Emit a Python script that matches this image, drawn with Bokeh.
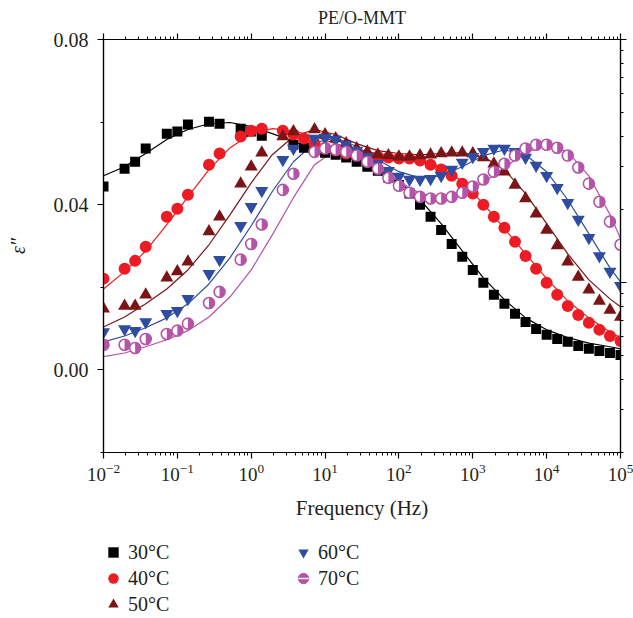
import math
from bokeh.plotting import figure
from bokeh.layouts import column
from bokeh.models import (FixedTicker, LogAxis, Range1d, LogScale, Title,
                          Legend, LegendItem, PrintfTickFormatter, ColumnDataSource)
from bokeh.embed import file_html
from bokeh.resources import INLINE

nan = float("nan")

# Measurement frequencies (Hz), 7 points per decade
FREQ = [0.01, 0.0139, 0.0193, 0.0268, 0.0373, 0.0518, 0.072,
        0.1, 0.139, 0.193, 0.268, 0.373, 0.518, 0.72,
        1, 1.39, 1.93, 2.68, 3.73, 5.18, 7.2,
        10, 13.9, 19.3, 26.8, 37.3, 51.8, 72,
        100, 139, 193, 268, 373, 518, 720,
        1000, 1390, 1930, 2680, 3730, 5180, 7200,
        10000, 13900, 19300, 26800, 37300, 51800, 72000,
        100000]

# Dielectric loss, measured points
EPS_30 = [0.0444, nan, 0.0487, 0.0504, 0.0536, nan, 0.0572, 0.0577, 0.0594, nan,
          0.0601, 0.0596, nan, 0.0584, 0.0577, 0.0567, nan, nan, 0.0545, 0.0538,
          0.0533, 0.0526, 0.0521, 0.0514, 0.0504, 0.0492, 0.0482, 0.0465, 0.0448, 0.0427,
          0.0400, 0.0371, 0.0339, 0.0305, 0.0274, 0.0242, 0.0211, 0.0182, 0.0160, 0.0136,
          0.0116, 0.0099, 0.0085, 0.0075, 0.0068, 0.0058, 0.0051, 0.0046, 0.0041, 0.0036]
EPS_40 = [0.0221, nan, 0.0245, 0.0264, 0.0298, nan, 0.0371, 0.0390, 0.0424, nan,
          0.0497, 0.0524, nan, 0.0565, 0.0579, 0.0584, nan, 0.0579, 0.0570, 0.0560,
          0.0548, 0.0538, 0.0531, 0.0524, 0.0521, 0.0516, 0.0516, 0.0514, 0.0512, 0.0512,
          0.0507, 0.0497, 0.0485, 0.0470, 0.0451, 0.0427, 0.0400, 0.0371, 0.0344, 0.0310,
          0.0276, 0.0245, 0.0211, 0.0182, 0.0155, 0.0133, 0.0114, 0.0097, 0.0082, 0.0070]
EPS_50 = [0.0148, nan, 0.0155, 0.0155, 0.0182, nan, 0.0223, 0.0238, 0.0262, nan,
          0.0335, 0.0371, nan, 0.0451, 0.0492, 0.0526, nan, 0.0565, 0.0577, nan,
          0.0582, 0.0570, 0.0560, 0.0548, 0.0536, 0.0528, 0.0521, 0.0519, 0.0516, 0.0516,
          0.0519, 0.0521, 0.0524, 0.0526, 0.0526, 0.0524, 0.0514, 0.0499, 0.0480, 0.0448,
          0.0415, 0.0378, 0.0339, 0.0301, 0.0262, 0.0225, 0.0194, 0.0167, 0.0145, 0.0128]
EPS_60 = [0.0092, nan, 0.0099, 0.0095, 0.0116, nan, 0.0136, 0.0143, 0.0172, nan,
          0.0233, 0.0267, nan, 0.0349, 0.0395, 0.0434, nan, 0.0509, 0.0536, nan,
          0.0560, 0.0562, 0.0558, 0.0545, 0.0531, 0.0516, 0.0499, 0.0482, 0.0468, 0.0461,
          0.0461, 0.0463, 0.0470, 0.0485, 0.0502, 0.0516, 0.0528, 0.0536, 0.0536, 0.0528,
          0.0514, 0.0495, 0.0470, 0.0441, 0.0405, 0.0364, 0.0320, 0.0276, 0.0238, 0.0204]
EPS_70 = [0.0061, nan, 0.0061, 0.0053, 0.0075, nan, 0.0087, 0.0095, 0.0112, nan,
          0.0162, 0.0189, nan, 0.0267, 0.0305, 0.0352, nan, 0.0436, 0.0475, nan,
          0.0528, 0.0536, 0.0533, 0.0528, 0.0519, 0.0504, 0.0487, 0.0465, 0.0446, 0.0429,
          0.0419, 0.0415, 0.0415, 0.0419, 0.0429, 0.0444, 0.0461, 0.0480, 0.0499, 0.0519,
          0.0536, 0.0545, 0.0545, 0.0538, 0.0519, 0.0490, 0.0451, 0.0407, 0.0359, 0.0303]

# Fitted relaxation curves
FIT_FREQ = [0.01, 0.0193, 0.0373, 0.072, 0.139, 0.268, 0.518, 1, 1.93, 3.73, 7.2,
            13.9, 26.8, 51.8, 100, 193, 373, 720, 1390, 2680, 5180, 10000,
            19300, 37300, 72000, 100000]
FIT_30 = [0.0470, 0.0492, 0.0524, 0.0558, 0.0582, 0.0596, 0.0599, 0.0589, 0.0572, 0.0553,
          0.0536, 0.0521, 0.0507, 0.0487, 0.0456, 0.0412, 0.0354, 0.0288, 0.0223, 0.0170,
          0.0126, 0.0097, 0.0078, 0.0065, 0.0056, 0.0051]
FIT_40 = [0.0196, 0.0238, 0.0288, 0.0352, 0.0419, 0.0485, 0.0538, 0.0572, 0.0584, 0.0579,
          0.0565, 0.0548, 0.0533, 0.0524, 0.0516, 0.0509, 0.0492, 0.0456, 0.0402, 0.0342,
          0.0281, 0.0221, 0.0167, 0.0126, 0.0092, 0.0078]
FIT_50 = [0.0104, 0.0128, 0.0160, 0.0196, 0.0242, 0.0303, 0.0376, 0.0453, 0.0521, 0.0565,
          0.0582, 0.0570, 0.0548, 0.0531, 0.0524, 0.0521, 0.0524, 0.0526, 0.0516, 0.0485,
          0.0427, 0.0354, 0.0281, 0.0218, 0.0172, 0.0153]
FIT_60 = [0.0068, 0.0082, 0.0102, 0.0126, 0.0160, 0.0208, 0.0272, 0.0349, 0.0432, 0.0504,
          0.0550, 0.0562, 0.0541, 0.0509, 0.0480, 0.0465, 0.0470, 0.0492, 0.0519, 0.0533,
          0.0521, 0.0480, 0.0412, 0.0330, 0.0247, 0.0213]
FIT_70 = [0.0032, 0.0041, 0.0056, 0.0073, 0.0095, 0.0128, 0.0177, 0.0242, 0.0327, 0.0417,
          0.0497, 0.0533, 0.0524, 0.0492, 0.0456, 0.0427, 0.0417, 0.0427, 0.0453, 0.0490,
          0.0526, 0.0545, 0.0528, 0.0470, 0.0376, 0.0318]

LABELS = ["30°C", "40°C", "50°C", "60°C", "70°C"]
COLORS = ["#000000", "#ED1C24", "#7A1416", "#2E4DA0", "#B454A8"]

SERIF = "Liberation Serif"
INK = "#231F20"

p = figure(width=633, height=530, x_axis_type="log",
           x_range=Range1d(0.01, 1e5), y_range=Range1d(-0.02, 0.08),
           output_backend="svg", toolbar_location=None,
           min_border_left=103, min_border_right=13,
           min_border_top=38, min_border_bottom=78,
           title=Title(text="PE/O-MMT", align="center", text_font=SERIF,
                       text_font_size="18px", text_font_style="normal",
                       text_color=INK, standoff=11))
p.grid.visible = False
p.background_fill_color = "white"
p.border_fill_color = "white"
p.outline_line_color = "black"
p.outline_line_width = 1.2

decades = [10.0 ** k for k in range(-2, 6)]
minors = [m * 10.0 ** k for k in range(-2, 5) for m in range(2, 10)]
xticker = FixedTicker(ticks=decades, minor_ticks=minors)


def style_axis(ax, label_size="20px"):
    ax.axis_line_color = "black"
    ax.axis_line_width = 1.2
    ax.major_tick_line_width = 1.2
    ax.minor_tick_line_width = 1.0
    ax.major_tick_in = 0
    ax.major_tick_out = 6
    ax.minor_tick_in = 0
    ax.minor_tick_out = 3
    ax.major_label_text_font = SERIF
    ax.major_label_text_font_size = label_size
    ax.major_label_text_color = INK
    ax.axis_label_text_font = SERIF
    ax.axis_label_text_font_size = "20px"
    ax.axis_label_text_font_style = "normal"
    ax.axis_label_text_color = INK


def hide_labels(ax):
    # keep the frame ticks, drop the numbers
    ax.major_label_text_alpha = 0
    ax.major_label_text_font_size = "6px"
    ax.major_label_standoff = 0


xa = p.xaxis[0]
xa.ticker = xticker
style_axis(xa, "19px")
xa.axis_label = "Frequency (Hz)"
xa.axis_label_text_font_size = "21px"
xa.major_label_standoff = 5
xa.axis_label_standoff = 12

ya = p.yaxis[0]
ya.ticker = FixedTicker(ticks=[0.0, 0.04, 0.08], minor_ticks=[-0.02, 0.02, 0.06])
ya.formatter = PrintfTickFormatter(format="%.2f")
style_axis(ya, "20px")
ya.axis_label = "ε″"
ya.axis_label_text_font_style = "italic"
ya.major_label_standoff = 9
ya.axis_label_standoff = 22

# Frame axes on top and right
top = LogAxis(ticker=xticker)
style_axis(top)
hide_labels(top)
p.add_layout(top, "above")

p.extra_y_ranges = {"right": Range1d(0.2, 10)}
p.extra_y_scales = {"right": LogScale()}
right = LogAxis(y_range_name="right",
                ticker=FixedTicker(ticks=[1, 10],
                                   minor_ticks=[0.2, 0.3, 0.4, 0.5, 0.6, 0.7, 0.8, 0.9,
                                                2, 3, 4, 5, 6, 7, 8, 9]))
style_axis(right)
hide_labels(right)
p.add_layout(right, "right")

series = [EPS_30, EPS_40, EPS_50, EPS_60, EPS_70]
fits = [FIT_30, FIT_40, FIT_50, FIT_60, FIT_70]

for fit, col in zip(fits, COLORS):
    p.line(FIT_FREQ, fit, line_color=col, line_width=1.2)

src = [ColumnDataSource(dict(x=FREQ, y=s)) for s in series]


def add_markers(fig):
    r30 = fig.scatter("x", "y", source=src[0], marker="square", size=10,
                      fill_color=COLORS[0], line_color=None)
    r40 = fig.scatter("x", "y", source=src[1], marker="circle", size=12,
                      fill_color=COLORS[1], line_color=None)
    r50 = fig.scatter("x", "y", source=src[2], marker="triangle", size=13,
                      fill_color=COLORS[2], line_color=None)
    r60 = fig.scatter("x", "y", source=src[3], marker="inverted_triangle", size=13,
                      fill_color=COLORS[3], line_color=None)
    return r30, r40, r50, r60


add_markers(p)
# half-filled circles for 70 °C
p.scatter("x", "y", source=src[4], marker="circle", size=11,
          fill_color="white", line_color=COLORS[4], line_width=1.6)
p.wedge("x", "y", source=src[4], radius=5.5, radius_units="screen",
        start_angle=-math.pi / 2, end_angle=math.pi / 2,
        fill_color=COLORS[4], line_color=None)

# Legend panel underneath the chart (its frame lines up with the chart frame)
lf = figure(width=633, height=88, x_range=Range1d(0, 1), y_range=Range1d(1, 2),
            output_backend="svg", toolbar_location=None,
            x_axis_location=None, y_axis_location=None,
            min_border=0, outline_line_color=None)
lf.grid.visible = False
k30, k40, k50, k60 = add_markers(lf)
k70a = lf.scatter("x", "y", source=src[4], marker="circle", size=11,
                  fill_color=COLORS[4], line_color=COLORS[4], line_width=1.0)
k70b = lf.scatter("x", "y", source=src[4], marker="dash", size=10, angle=math.pi / 2,
                  line_color="white", line_width=1.4)

legend = Legend(items=[LegendItem(label=LABELS[0], renderers=[k30]),
                       LegendItem(label=LABELS[1], renderers=[k40]),
                       LegendItem(label=LABELS[2], renderers=[k50]),
                       LegendItem(label=LABELS[3], renderers=[k60]),
                       LegendItem(label=LABELS[4], renderers=[k70a, k70b])],
                location=(-3, 1), orientation="vertical", nrows=3,
                label_text_font=SERIF, label_text_font_size="20px",
                label_text_color=INK,
                glyph_width=26, glyph_height=26, label_height=26,
                label_width=162, label_standoff=2, spacing=0,
                padding=0, margin=0, border_line_color=None,
                background_fill_alpha=0)
lf.add_layout(legend, "center")

open("out.html", "w").write(file_html(column(p, lf, spacing=0), INLINE))
